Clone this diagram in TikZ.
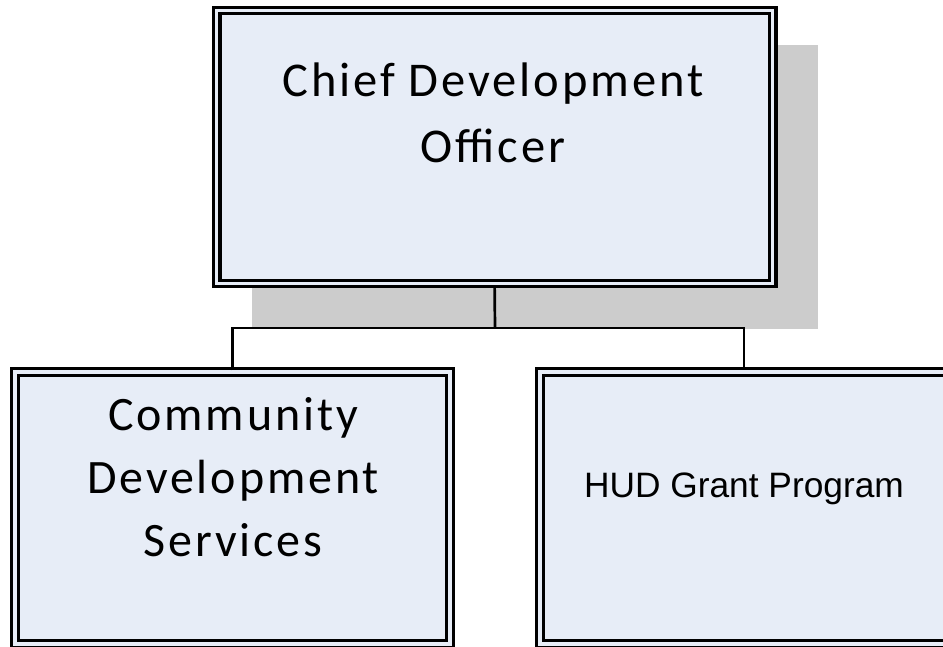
\documentclass[tikz,border=0pt]{standalone}
\usepackage{fontspec}
\setmainfont{Carlito}
\newfontfamily\calsp[LetterSpace=6]{Carlito}
\newfontfamily\arialf{Liberation Sans}
\definecolor{boxfill}{HTML}{E7EDF7}
\definecolor{shadowgray}{HTML}{CCCCCC}
\tikzset{
  orgbox/.style={draw=black, line width=3.3pt, double=boxfill, double distance=3.3pt,
    fill=boxfill, rectangle, inner sep=0pt},
  conn/.style={draw=black, line width=2.7pt},
  lbl/.style={align=center, inner sep=0pt, anchor=base},
}
\begin{document}
\begin{tikzpicture}[x=1pt,y=-1pt]
\useasboundingbox (0,0) rectangle (943,646);
\fill[shadowgray] (252,45) rectangle (818,329);
\coordinate (bar) at (495,328);
\node[orgbox, minimum width=556pt, minimum height=273pt] (cdo) at (494.6,147) {};
\node[orgbox, minimum width=435pt, minimum height=272pt] (cds) at (232.5,508) {};
\node[orgbox, minimum width=408pt, minimum height=272pt] (hud) at (744,508) {};
\draw[conn] (cdo.south) -- (bar);
\draw[conn] (cds.north) |- (bar) -| (hud.north);
\node[lbl, font=\calsp\fontsize{48.5}{66}\selectfont] (cdot) at (493,162) {Chief Development\\Officer};
\node[lbl, font=\calsp\fontsize{48}{63}\selectfont] (cdst) at (233,556) {Community\\Development\\Services};
\node[lbl, font=\arialf\fontsize{35.3}{40}\selectfont] (hudt) at (744,497) {HUD Grant Program};
\end{tikzpicture}
\end{document}
